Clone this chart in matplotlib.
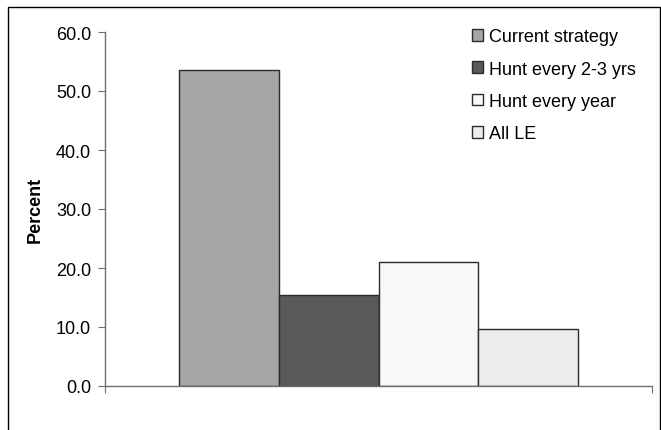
import matplotlib
matplotlib.use("Agg")
import matplotlib.pyplot as plt
from matplotlib.patches import Rectangle
from matplotlib.ticker import FormatStrFormatter

plt.rcParams['font.family'] = ['Liberation Sans', 'DejaVu Sans']

strategies = ["Current strategy", "Hunt every 2-3 yrs", "Hunt every year", "All LE"]
percent = [53.5, 15.5, 21.1, 9.6]
colors = ["#a6a6a6", "#595959", "#f8f8f8", "#ededed"]

fig = plt.figure(figsize=(6.61, 4.31), dpi=100)
ax = fig.add_axes([105 / 661, 44 / 431, 547 / 661, 354 / 431])

# outer chart border (runs off the right and bottom edges like the source)
fig.patches.append(Rectangle((8 / 661, -5 / 431), 652 / 661, 428 / 431,
                             transform=fig.transFigure, fill=False,
                             edgecolor="black", linewidth=1))

width = 0.182
start = 0.5 - 2 * width
for i, (name, val, c) in enumerate(zip(strategies, percent, colors)):
    ax.bar(start + width * (i + 0.5), val, width=width, color=c,
           edgecolor="#2b2b2b", linewidth=1, label=name)

ax.set_xlim(0, 1)
ax.set_ylim(0, 60)
ax.set_yticks(range(0, 61, 10))
ax.yaxis.set_major_formatter(FormatStrFormatter("%.1f"))
ax.set_xticks([0, 1])
ax.set_xticklabels([])

for s in ["top", "right"]:
    ax.spines[s].set_visible(False)
for s in ["left", "bottom"]:
    ax.spines[s].set_color("#6e6e6e")
    ax.spines[s].set_linewidth(1)
ax.tick_params(axis="both", direction="out", length=5, color="#6e6e6e",
               labelsize=13, pad=5)
ax.set_ylabel("Percent", fontsize=13, fontweight="bold", labelpad=9)

ax.legend(loc="upper left", bbox_to_anchor=(465 / 661, 409 / 431),
          bbox_transform=fig.transFigure, frameon=False, fontsize=13,
          handlelength=0.6, handleheight=0.6, handletextpad=0.35,
          labelspacing=0.85, borderaxespad=0)

fig.savefig("out.png", dpi=100)
